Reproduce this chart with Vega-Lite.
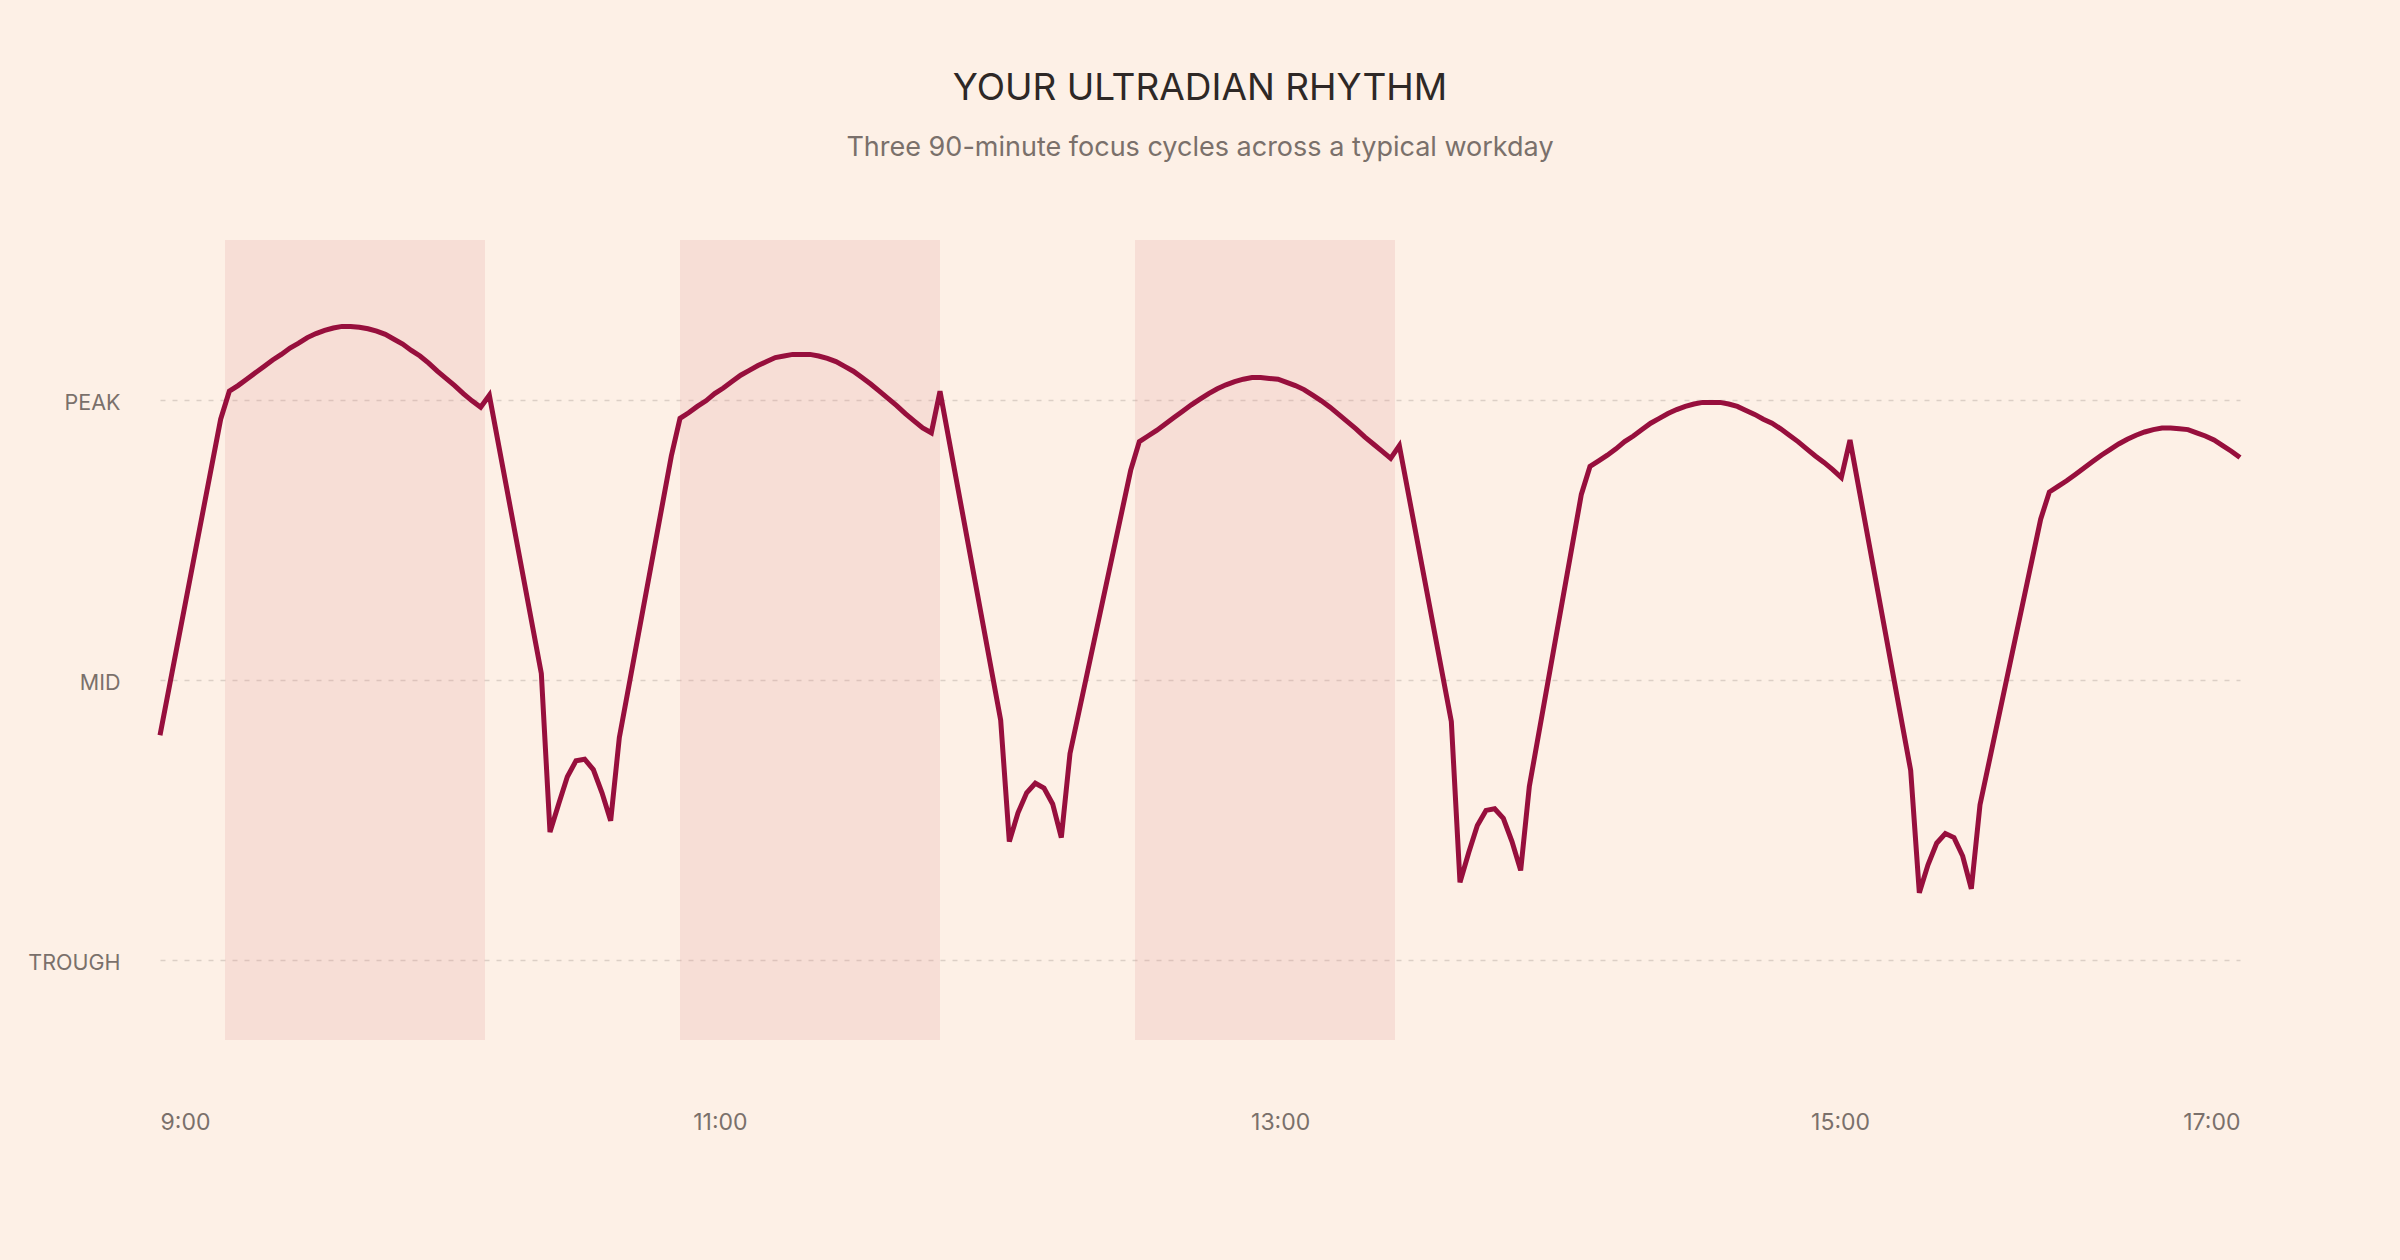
{
  "$schema": "https://vega.github.io/schema/vega-lite/v6.json",
  "width": 2080,
  "height": 800,
  "autosize": {"type": "none"},
  "padding": {"left": 160, "top": 240, "right": 160, "bottom": 220},
  "background": "#fdf0e6",
  "title": {
    "text": "YOUR ULTRADIAN RHYTHM",
    "subtitle": "Three 90-minute focus cycles across a typical workday",
    "anchor": "middle",
    "font": "Inter",
    "fontSize": 37,
    "fontWeight": 400,
    "color": "#2e2826",
    "subtitleFont": "Inter",
    "subtitleFontSize": 27,
    "subtitleColor": "#7a706b",
    "subtitlePadding": 27,
    "offset": 78
  },
  "config": {
    "view": {"stroke": null},
    "axis": {"domain": false, "ticks": false, "labelFont": "Inter", "labelColor": "#7a706b", "title": null}
  },
  "datasets": {
    "focus": [
      {"start": 15, "end": 75},
      {"start": 120, "end": 180},
      {"start": 225, "end": 285}
    ],
    "energy": [
      {"minute": 0, "energy": 38.1}, {"minute": 14, "energy": 77.6},
      {"minute": 16, "energy": 81.1}, {"minute": 18, "energy": 81.8}, {"minute": 20, "energy": 82.6}, {"minute": 22, "energy": 83.4},
      {"minute": 24, "energy": 84.2}, {"minute": 26, "energy": 85.0}, {"minute": 28, "energy": 85.7}, {"minute": 30, "energy": 86.5},
      {"minute": 32, "energy": 87.1}, {"minute": 34, "energy": 87.8}, {"minute": 36, "energy": 88.3}, {"minute": 38, "energy": 88.7},
      {"minute": 40, "energy": 89.0}, {"minute": 42, "energy": 89.2}, {"minute": 44, "energy": 89.2}, {"minute": 46, "energy": 89.1},
      {"minute": 48, "energy": 88.9}, {"minute": 50, "energy": 88.6}, {"minute": 52, "energy": 88.2}, {"minute": 54, "energy": 87.6},
      {"minute": 56, "energy": 87.0}, {"minute": 58, "energy": 86.2}, {"minute": 60, "energy": 85.5}, {"minute": 62, "energy": 84.6},
      {"minute": 64, "energy": 83.6}, {"minute": 66, "energy": 82.7}, {"minute": 68, "energy": 81.8}, {"minute": 70, "energy": 80.8},
      {"minute": 72, "energy": 79.9}, {"minute": 74, "energy": 79.1}, {"minute": 76, "energy": 80.6},
      {"minute": 88, "energy": 45.8}, {"minute": 90, "energy": 26.0}, {"minute": 92, "energy": 29.5}, {"minute": 94, "energy": 32.9},
      {"minute": 96, "energy": 34.9}, {"minute": 98, "energy": 35.1}, {"minute": 100, "energy": 33.8}, {"minute": 102, "energy": 30.9},
      {"minute": 104, "energy": 27.4}, {"minute": 106, "energy": 37.8}, {"minute": 118, "energy": 73.0},
      {"minute": 120, "energy": 77.7}, {"minute": 122, "energy": 78.4}, {"minute": 124, "energy": 79.2}, {"minute": 126, "energy": 79.9},
      {"minute": 128, "energy": 80.8}, {"minute": 130, "energy": 81.5}, {"minute": 132, "energy": 82.3}, {"minute": 134, "energy": 83.1},
      {"minute": 136, "energy": 83.7}, {"minute": 138, "energy": 84.3}, {"minute": 140, "energy": 84.8}, {"minute": 142, "energy": 85.3},
      {"minute": 144, "energy": 85.5}, {"minute": 146, "energy": 85.7}, {"minute": 148, "energy": 85.7}, {"minute": 150, "energy": 85.7},
      {"minute": 152, "energy": 85.5}, {"minute": 154, "energy": 85.2}, {"minute": 156, "energy": 84.8}, {"minute": 158, "energy": 84.2},
      {"minute": 160, "energy": 83.6}, {"minute": 162, "energy": 82.8}, {"minute": 164, "energy": 82.0}, {"minute": 166, "energy": 81.1},
      {"minute": 168, "energy": 80.2}, {"minute": 170, "energy": 79.3}, {"minute": 172, "energy": 78.3}, {"minute": 174, "energy": 77.4},
      {"minute": 176, "energy": 76.5}, {"minute": 178, "energy": 75.9}, {"minute": 180, "energy": 81.1},
      {"minute": 194, "energy": 40.0}, {"minute": 196, "energy": 24.8}, {"minute": 198, "energy": 28.4}, {"minute": 200, "energy": 30.9},
      {"minute": 202, "energy": 32.1}, {"minute": 204, "energy": 31.5}, {"minute": 206, "energy": 29.5}, {"minute": 208, "energy": 25.3},
      {"minute": 210, "energy": 35.8}, {"minute": 224, "energy": 71.2},
      {"minute": 226, "energy": 74.8}, {"minute": 228, "energy": 75.5}, {"minute": 230, "energy": 76.2}, {"minute": 232, "energy": 77.0},
      {"minute": 234, "energy": 77.8}, {"minute": 236, "energy": 78.6}, {"minute": 238, "energy": 79.4}, {"minute": 240, "energy": 80.1},
      {"minute": 242, "energy": 80.8}, {"minute": 244, "energy": 81.4}, {"minute": 246, "energy": 81.9}, {"minute": 248, "energy": 82.3},
      {"minute": 250, "energy": 82.6}, {"minute": 252, "energy": 82.8}, {"minute": 254, "energy": 82.8}, {"minute": 256, "energy": 82.7},
      {"minute": 258, "energy": 82.6}, {"minute": 260, "energy": 82.2}, {"minute": 262, "energy": 81.8}, {"minute": 264, "energy": 81.3},
      {"minute": 266, "energy": 80.6}, {"minute": 268, "energy": 79.9}, {"minute": 270, "energy": 79.1}, {"minute": 272, "energy": 78.2},
      {"minute": 274, "energy": 77.3}, {"minute": 276, "energy": 76.4}, {"minute": 278, "energy": 75.4}, {"minute": 280, "energy": 74.5},
      {"minute": 282, "energy": 73.6}, {"minute": 284, "energy": 72.7}, {"minute": 286, "energy": 74.3},
      {"minute": 298, "energy": 39.8}, {"minute": 300, "energy": 19.7}, {"minute": 302, "energy": 23.4}, {"minute": 304, "energy": 26.8},
      {"minute": 306, "energy": 28.7}, {"minute": 308, "energy": 28.9}, {"minute": 310, "energy": 27.7}, {"minute": 312, "energy": 24.8},
      {"minute": 314, "energy": 21.2}, {"minute": 316, "energy": 31.7}, {"minute": 328, "energy": 68.2},
      {"minute": 330, "energy": 71.7}, {"minute": 332, "energy": 72.4}, {"minute": 334, "energy": 73.1}, {"minute": 336, "energy": 73.9},
      {"minute": 338, "energy": 74.8}, {"minute": 340, "energy": 75.5}, {"minute": 342, "energy": 76.3}, {"minute": 344, "energy": 77.1},
      {"minute": 346, "energy": 77.7}, {"minute": 348, "energy": 78.3}, {"minute": 350, "energy": 78.8}, {"minute": 352, "energy": 79.2},
      {"minute": 354, "energy": 79.5}, {"minute": 356, "energy": 79.7}, {"minute": 358, "energy": 79.7}, {"minute": 360, "energy": 79.7},
      {"minute": 362, "energy": 79.5}, {"minute": 364, "energy": 79.2}, {"minute": 366, "energy": 78.7}, {"minute": 368, "energy": 78.2},
      {"minute": 370, "energy": 77.6}, {"minute": 372, "energy": 77.1}, {"minute": 374, "energy": 76.4}, {"minute": 376, "energy": 75.6},
      {"minute": 378, "energy": 74.8}, {"minute": 380, "energy": 73.9}, {"minute": 382, "energy": 73.0}, {"minute": 384, "energy": 72.2},
      {"minute": 386, "energy": 71.3}, {"minute": 388, "energy": 70.3}, {"minute": 390, "energy": 75.0},
      {"minute": 404, "energy": 33.7}, {"minute": 406, "energy": 18.4}, {"minute": 408, "energy": 21.9}, {"minute": 410, "energy": 24.6},
      {"minute": 412, "energy": 25.8}, {"minute": 414, "energy": 25.3}, {"minute": 416, "energy": 23.0}, {"minute": 418, "energy": 18.9},
      {"minute": 420, "energy": 29.4}, {"minute": 434, "energy": 65.1},
      {"minute": 436, "energy": 68.5}, {"minute": 438, "energy": 69.2}, {"minute": 440, "energy": 69.9}, {"minute": 442, "energy": 70.7},
      {"minute": 444, "energy": 71.5}, {"minute": 446, "energy": 72.3}, {"minute": 448, "energy": 73.1}, {"minute": 450, "energy": 73.8},
      {"minute": 452, "energy": 74.5}, {"minute": 454, "energy": 75.1}, {"minute": 456, "energy": 75.6}, {"minute": 458, "energy": 76.0},
      {"minute": 460, "energy": 76.3}, {"minute": 462, "energy": 76.5}, {"minute": 464, "energy": 76.5}, {"minute": 466, "energy": 76.4},
      {"minute": 468, "energy": 76.3}, {"minute": 470, "energy": 75.9}, {"minute": 472, "energy": 75.5}, {"minute": 474, "energy": 75.0},
      {"minute": 476, "energy": 74.3}, {"minute": 478, "energy": 73.6}, {"minute": 480, "energy": 72.8}
    ]
  },
  "layer": [
    {
      "data": {"name": "focus"},
      "mark": {"type": "rect", "color": "#df9696", "opacity": 0.2},
      "encoding": {
        "x": {"field": "start", "type": "quantitative", "title": null},
        "x2": {"field": "end"}
      }
    },
    {
      "data": {"name": "energy"},
      "mark": {"type": "line", "color": "#970f3d", "strokeWidth": 5, "strokeJoin": "miter"},
      "encoding": {
        "x": {
          "field": "minute",
          "type": "quantitative",
          "title": null,
          "scale": {"domain": [0, 480], "nice": false, "zero": false},
          "axis": {
            "values": [0, 129.2, 258.5, 387.7, 480],
            "labelExpr": "datum.value == 0 ? '9:00' : datum.value < 130 ? '11:00' : datum.value < 259 ? '13:00' : datum.value < 388 ? '15:00' : '17:00'",
            "labelFontSize": 23,
            "labelPadding": 71,
            "labelFlush": true,
            "grid": false
          }
        },
        "y": {
          "field": "energy",
          "type": "quantitative",
          "title": null,
          "scale": {"domain": [0, 100], "nice": false},
          "axis": {
            "values": [10, 45, 80],
            "labelExpr": "datum.value == 10 ? 'TROUGH' : datum.value == 45 ? 'MID' : 'PEAK'",
            "labelFontSize": 21.5,
            "labelPadding": 40,
            "labelOffset": 3,
            "grid": true,
            "gridColor": "#dccfc6",
            "gridDash": [5, 7],
            "gridWidth": 1.5
          }
        }
      }
    }
  ]
}
